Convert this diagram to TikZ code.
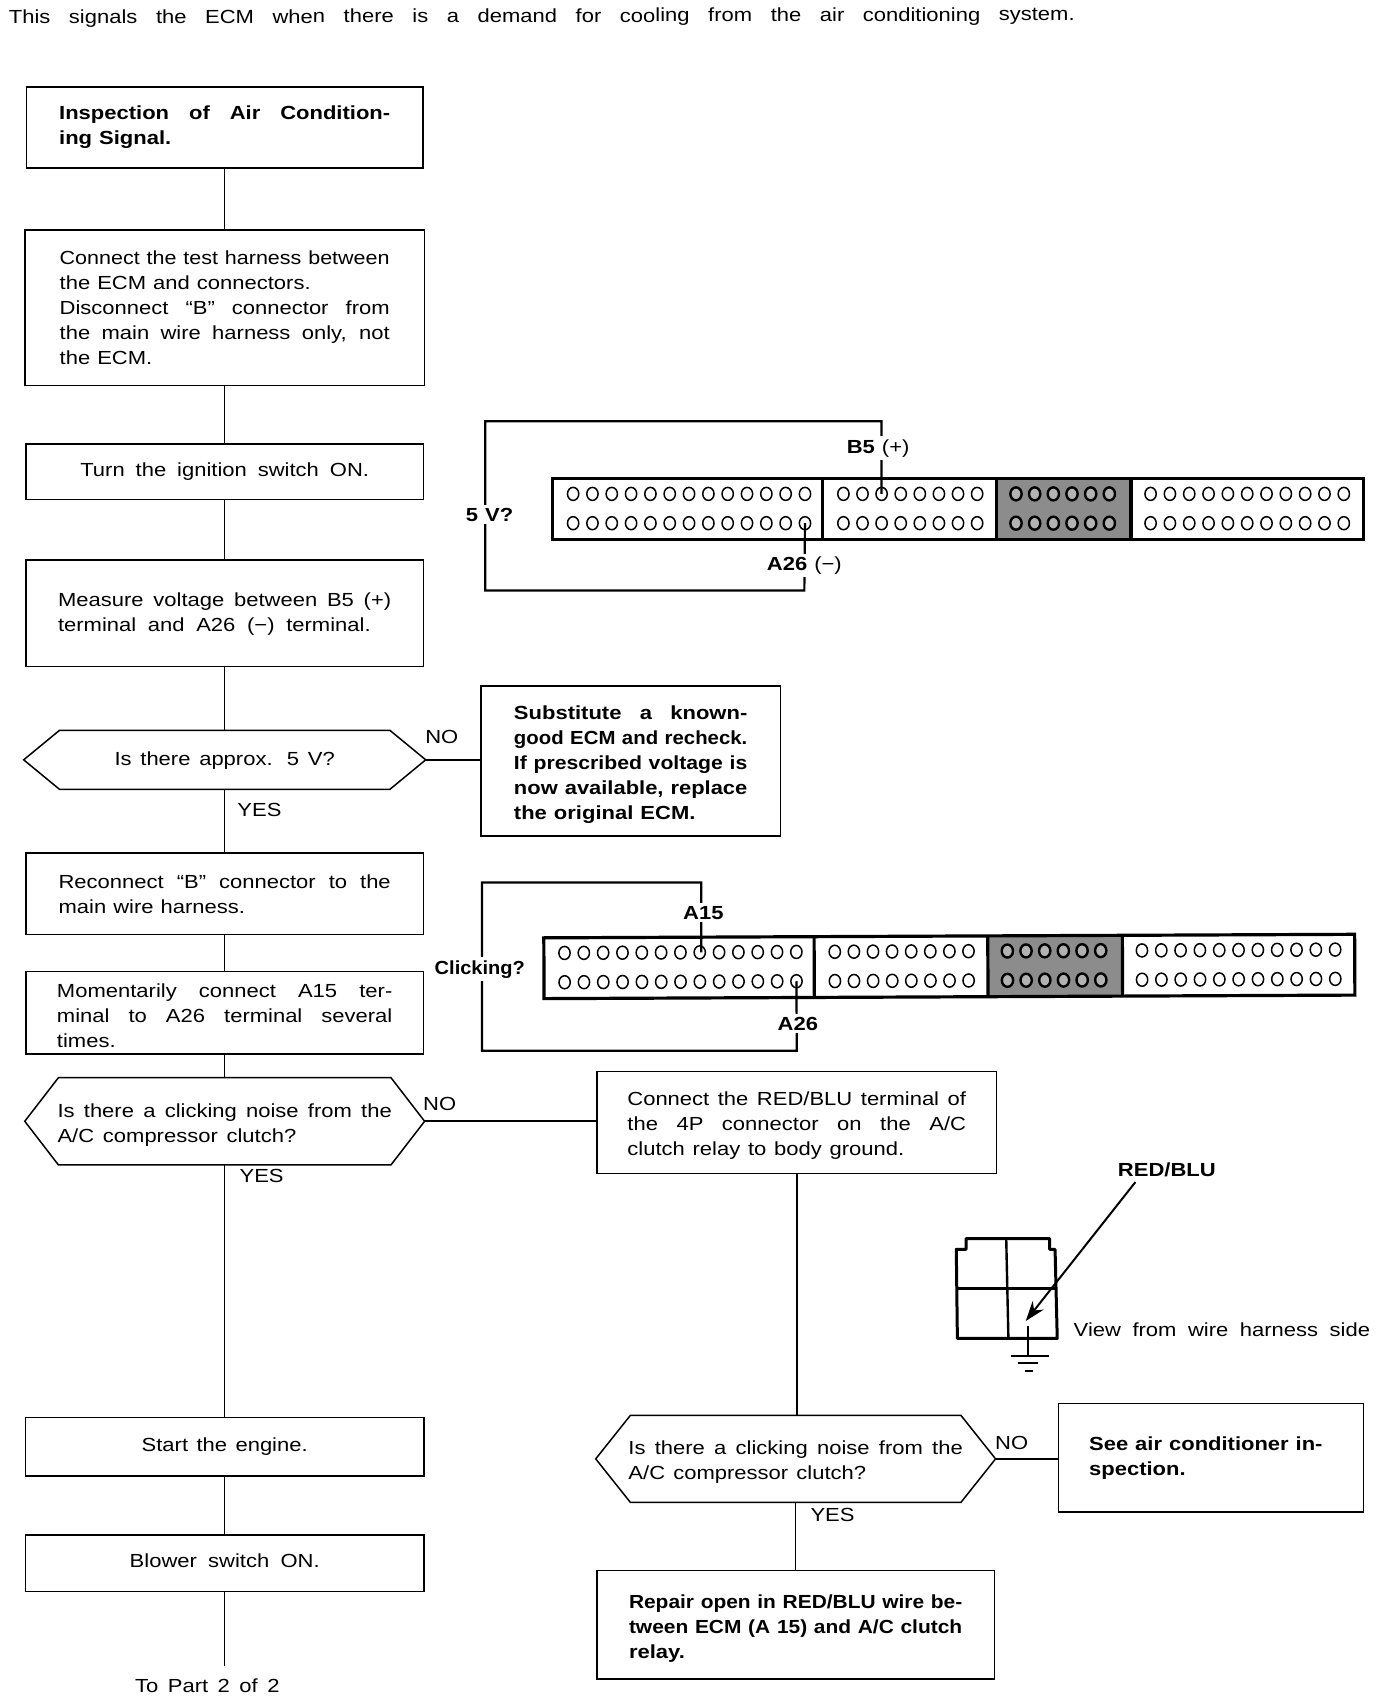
\documentclass[tikz,border=0pt]{standalone}
\usepackage{fontspec}
\usepackage{graphicx}
\setmainfont[FakeStretch=1.16,WordSpace=1.15]{Liberation Sans}
\usetikzlibrary{calc,arrows.meta}
\newsavebox\flbox
\newlength\flw
\newcommand\fl[2]{\setlength\flw{#1pt}\setlength\flw{1.0875\flw}\sbox\flbox{#2}\ifdim\wd\flbox>\flw\relax\resizebox{\flw}{\height}{#2}\else\makebox[\flw][s]{#2}\fi}
\newcommand\pinrow[4]{\foreach \k in {1,...,#3}{\draw[pin] ({#1+(\k-1)*#4},#2) ellipse [x radius=5.2,y radius=6];}}
\newcommand\hexline[2]{\draw[hexl] (#1.west) -- ($(#1.north west)+(#2,0)$) -- ($(#1.north east)+(-#2,0)$) -- (#1.east) -- ($(#1.south east)+(-#2,0)$) -- ($(#1.south west)+(#2,0)$) -- cycle;}
\newcommand\connblock{%
  \fill[black!45] (409,0) rectangle (533,56);
  \draw[conn] (0,0) rectangle (747,56);
  \draw[conn] (249,0) -- (249,56);
  \draw[conn] (409,0) -- (409,56);
  \draw[conn] (533,0) -- (533,56);
  \pinrow{19}{14}{13}{17.8}\pinrow{19}{41}{13}{17.8}
  \pinrow{268}{14}{8}{17.6}\pinrow{268}{41}{8}{17.6}
  \begin{scope}[pin/.append style={line width=2.4pt,draw=black,fill=black!30}]
  \pinrow{427}{14}{6}{17.2}\pinrow{427}{41}{6}{17.2}
  \end{scope}
  \pinrow{551}{14}{11}{17.8}\pinrow{551}{41}{11}{17.8}
}
\tikzset{
  x=1.0875pt,y=-1.0875pt,
  txt/.style={font=\fontsize{19}{25}\selectfont,align=left,inner sep=0pt},
  bx/.style 2 args={txt,draw,rectangle,line width=1.5pt,minimum width=#1*1.0875pt,minimum height=#2*1.0875pt},
  hex/.style 2 args={txt,rectangle,minimum width=#1*1.0875pt,minimum height=#2*1.0875pt},
  hexl/.style={line width=1.5pt,line join=miter},
  flow/.style={line width=1.6pt},
  wire/.style={line width=2.2pt},
  lab/.style={txt,fill=white,inner xsep=2pt,inner ysep=3pt},
  blab/.style={lab,font=\fontsize{19}{25}\selectfont\bfseries},
  conn/.style={line width=3.2pt},
  pin/.style={line width=1.5pt,draw=black},
}
\begin{document}
\begin{tikzpicture}
\useasboundingbox[fill=white] (0,0) rectangle (1268,1568);
\node[txt,anchor=west,rotate=0.17] (title) at (8,17.5) {\fl{982}{This signals the ECM when there is a demand for cooling from the air conditioning system.}};

\node[bx={365}{75}] (A) at (207,117.5) {\bfseries\fl{305}{Inspection of Air Condition-}\\\bfseries ing Signal.};
\node[bx={368}{143}] (B) at (207,283.5) {\fl{304}{Connect the test harness between}\\the ECM and connectors.\\\fl{304}{Disconnect ``B'' connector from}\\\fl{304}{the main wire harness only, not}\\the ECM.};
\node[bx={366}{51}] (C) at (207,434.5) {\fl{266}{Turn the ignition switch ON.}};
\node[bx={366}{98}] (D) at (207,565) {\rule{0pt}{16pt}\fl{307}{Measure voltage between B5 (+)}\\\fl{288}{terminal and A26 (−) terminal.}};
\node[hex={370}{54}] (E) at (207,700) {\rule{0pt}{16pt}\fl{203}{Is there approx. 5 V?}};
\hexline{E}{33}
\node[bx={276}{138}] (F) at (581,701) {\rule{0pt}{22pt}\bfseries\fl{215}{Substitute a known-}\\\bfseries\fl{215}{good ECM and recheck.}\\\bfseries\fl{215}{If prescribed voltage is}\\\bfseries\fl{215}{now available, replace}\\\bfseries the original ECM.};
\node[bx={366}{75}] (G) at (207,823.5) {\fl{306}{Reconnect ``B'' connector to the}\\main wire harness.};
\node[bx={366}{76}] (H) at (207,933) {\rule{0pt}{20.5pt}\fl{309}{Momentarily connect A15 ter-}\\\fl{309}{minal to A26 terminal several}\\times.};
\node[hex={368}{80}] (I) at (207,1033) {\rule{0pt}{20.5pt}\fl{308}{Is there a clicking noise from the}\\\fl{220}{A/C compressor clutch?}};
\hexline{I}{31}
\node[bx={368}{94}] (J) at (734,1034) {\rule{0pt}{20.5pt}\fl{312}{Connect the RED/BLU terminal of}\\\fl{312}{the 4P connector on the A/C}\\\fl{255}{clutch relay to body ground.}};
\node[bx={367}{54}] (K) at (207,1333) {\fl{153}{Start the engine.}};
\node[bx={367}{52}] (L) at (207,1440) {\rule[-5pt]{0pt}{5pt}\fl{175}{Blower switch ON.}};
\coordinate (Lend) at (207,1535);
\node[txt] (topart) at (191,1553) {\fl{133}{To Part 2 of 2}};
\node[hex={368}{80}] (M) at (733,1344) {\rule{0pt}{19.5pt}\fl{308}{Is there a clicking noise from the}\\\fl{219}{A/C compressor clutch?}};
\hexline{M}{32}
\node[bx={281}{100}] (N) at (1115.5,1343) {\bfseries\fl{215}{See air conditioner in-}\hspace*{10pt}\\\bfseries spection.};
\node[bx={366}{100}] (O) at (733,1497) {\rule{0pt}{20.5pt}\bfseries\fl{307}{Repair open in RED/BLU wire be-}\\\bfseries\fl{307}{tween ECM (A 15) and A/C clutch}\\\bfseries relay.};

\foreach \a/\b in {A/B,B/C,C/D,D/E,E/G,G/H,H/I,I/K,K/L}
  \draw[flow] (\a.south) -- (\b.north);
\draw[flow] (L.south) -- (Lend);
\draw[flow] (E.east) -- (E.east -| F.west);
\draw[flow] (I.east) -- (I.east -| J.west);
\draw[flow] (J.south) -- (J.south |- M.north);
\draw[flow] (M.south) -- (O.north);
\draw[flow] (M.east) -- (M.east -| N.west);

\node[txt] (noE) at (407,679) {NO};
\node[txt] (yesE) at (239,746) {YES};
\node[txt] (noI) at (405,1017) {NO};
\node[txt] (yesI) at (241,1083) {YES};
\node[txt] (noM) at (932,1329) {NO};
\node[txt] (yesM) at (767,1396) {YES};

% first connector
\begin{scope}[shift={(509,441)}]
  \connblock
  \coordinate (pB) at (303,14);
  \coordinate (pA) at (232.6,41);
\end{scope}
\coordinate (w1) at (812,388);
\coordinate (w2) at (447,388);
\coordinate (w3) at (447,544);
\coordinate (w4) at (741,544);
\draw[wire] (pB) -- (pB |- w1) -- (w2) -- (w3) -- (w4) -- (pA);
\node[lab] (lb5) at (809,413) {\textbf{B5} (+)};
\node[lab] (la26) at (741,521) {\textbf{A26} (−)};
\node[blab] (l5v) at (451,474) {5 V?};

% second connector
\begin{scope}[shift={(501,864)},rotate=0.25]
  \connblock
  \coordinate (pC) at (145,14);
  \coordinate (pD) at (232.6,41);
\end{scope}
\coordinate (v1) at (646,813);
\coordinate (v2) at (444,813);
\coordinate (v3) at (444,968);
\coordinate (v4) at (734,968);
\draw[wire] (pC) -- (pC |- v1) -- (v2) -- (v3) -- (v4) -- (pD);
\node[blab] (la15) at (648,841) {A15};
\node[blab] (la26b) at (735,943) {A26};
\node[blab] (lclick) at (442,893) {\fl{83}{Clicking?}};

% relay connector
\draw[line width=3pt,line join=round] (890,1141) -- (967,1141) -- (967,1151) -- (972,1151) -- (974,1233) -- (882,1233) -- (881,1151) -- (890,1151) -- cycle;
\draw[line width=2.4pt] (927,1141) -- (929,1233);
\draw[line width=2.4pt] (881,1187) -- (973,1187);
\node[txt,font=\fontsize{19}{25}\selectfont\bfseries] (redblu) at (1075,1078) {RED/BLU};
\coordinate (rbtail) at (1046,1089);
\coordinate (rbtip) at (945,1217);
\draw[line width=2pt,-{Stealth[length=20pt,width=14pt]}] (rbtail) -- (rbtip);
\node[txt,anchor=west] (view) at (989,1225) {\fl{273}{View from wire harness side}};
\coordinate (g0) at (947,1222);
\coordinate (g1) at (947,1249);
\draw[line width=2pt] (g0) -- (g1);
\draw[line width=2pt] (931,1249) -- (966,1249);
\draw[line width=2pt] (938,1256) -- (956,1256);
\draw[line width=2pt] (944,1263) -- (952,1263);
\end{tikzpicture}
\end{document}
